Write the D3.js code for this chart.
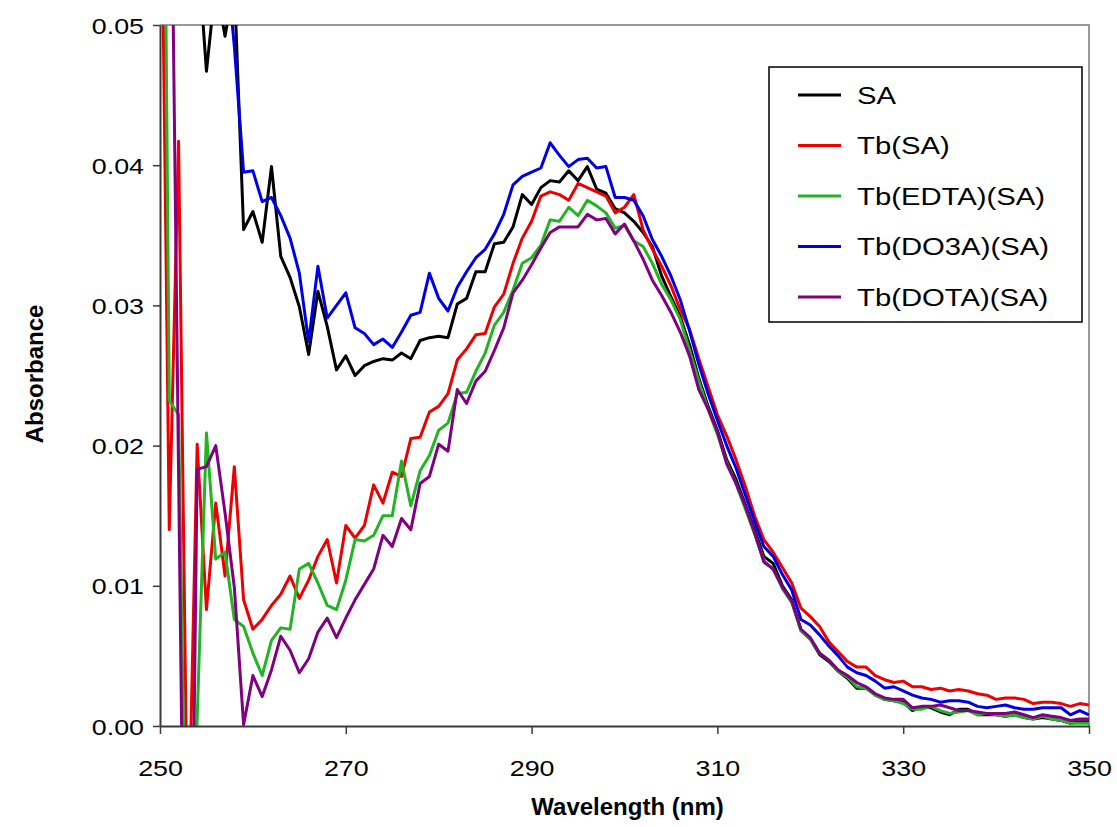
<!DOCTYPE html>
<html>
<head>
<meta charset="utf-8">
<script src="https://cdn.jsdelivr.net/npm/d3@7"></script>
<style>
  html, body { margin: 0; padding: 0; background: #ffffff; }
  svg { display: block; }
  text { font-family: "Liberation Sans", Arial, Helvetica, sans-serif; fill: #000; }
</style>
</head>
<body>
<svg id="chart" width="1117" height="827"></svg>
<script>
// ---------------- DATA ----------------
const wavelengths = d3.range(250, 351, 1);

const seriesNames = ["SA", "Tb(SA)", "Tb(EDTA)(SA)", "Tb(DO3A)(SA)", "Tb(DOTA)(SA)"];
const seriesColors = ["#000000", "#ee0000", "#22b422", "#0000e6", "#800080"];

const SA = [
  0.075, 0.072, 0.068, 0.063, 0.056, 0.0467, 0.053, 0.0492, 0.053, 0.0354,
  0.0367, 0.0345, 0.0399, 0.0335, 0.0320, 0.0299, 0.0265, 0.0310, 0.0285, 0.0254,
  0.0264, 0.0250, 0.0257, 0.0260, 0.0262, 0.0261, 0.0266, 0.0262, 0.0275, 0.0277,
  0.0278, 0.0277, 0.0301, 0.0305, 0.0324, 0.0324, 0.0344, 0.0345, 0.0356, 0.0379,
  0.0372, 0.0384, 0.0389, 0.0388, 0.0396, 0.0389, 0.0399, 0.0383, 0.0380, 0.0369,
  0.0366, 0.0360, 0.0352, 0.0342, 0.0321, 0.0306, 0.0292, 0.0272, 0.0248, 0.0228,
  0.0211, 0.0190, 0.0176, 0.0158, 0.0140, 0.0121, 0.0116, 0.0100, 0.0090, 0.0068,
  0.0062, 0.0051, 0.0046, 0.0039, 0.0034, 0.0027, 0.0027, 0.0022, 0.0019, 0.0018,
  0.0017, 0.0011, 0.0014, 0.0013, 0.0010, 0.0008, 0.0012, 0.0012, 0.0008, 0.0008,
  0.0008, 0.0007, 0.0008, 0.0006, 0.0005, 0.0006, 0.0005, 0.0004, 0.0002, 0.0003,
  0.0003
];

const TbSA = [
  0.070, 0.0140, 0.0417, -0.0104, 0.0201, 0.0083, 0.0159, 0.0107, 0.0185, 0.0090,
  0.0069, 0.0076, 0.0086, 0.0094, 0.0107, 0.0091, 0.0104, 0.0121, 0.0133, 0.0102,
  0.0143, 0.0134, 0.0143, 0.0172, 0.0159, 0.0181, 0.0178, 0.0205, 0.0206, 0.0224,
  0.0228, 0.0237, 0.0261, 0.0269, 0.0279, 0.0280, 0.0299, 0.0308, 0.0330, 0.0348,
  0.0360, 0.0378, 0.0381, 0.0379, 0.0375, 0.0387, 0.0384, 0.0381, 0.0378, 0.0366,
  0.0370, 0.0379, 0.0354, 0.0340, 0.0328, 0.0314, 0.0297, 0.0283, 0.0262, 0.0242,
  0.0222, 0.0207, 0.0190, 0.0171, 0.0150, 0.0133, 0.0124, 0.0113, 0.0102, 0.0084,
  0.0078, 0.0071, 0.0060, 0.0053, 0.0046, 0.0042, 0.0042, 0.0036, 0.0033, 0.0031,
  0.0032, 0.0028, 0.0028, 0.0026, 0.0027, 0.0025, 0.0026, 0.0025, 0.0023, 0.0022,
  0.0019, 0.0020, 0.0020, 0.0019, 0.0016, 0.0017, 0.0017, 0.0016, 0.0014, 0.0016,
  0.0015
];

const TbEDTA = [
  0.099, 0.0232, 0.0222, -0.020, 0.0005, 0.0209, 0.0119, 0.0124, 0.0076, 0.0071,
  0.0052, 0.0036, 0.0061, 0.0070, 0.0069, 0.0112, 0.0116, 0.0102, 0.0086, 0.0083,
  0.0104, 0.0133, 0.0132, 0.0136, 0.0150, 0.0150, 0.0189, 0.0157, 0.0182, 0.0193,
  0.0211, 0.0216, 0.0237, 0.0238, 0.0253, 0.0266, 0.0286, 0.0295, 0.0311, 0.0330,
  0.0334, 0.0343, 0.0361, 0.0360, 0.0370, 0.0364, 0.0375, 0.0371, 0.0366, 0.0355,
  0.0357, 0.0346, 0.0342, 0.0330, 0.0315, 0.0304, 0.0290, 0.0268, 0.0246, 0.0226,
  0.0208, 0.0188, 0.0173, 0.0155, 0.0137, 0.0118, 0.0112, 0.0098, 0.0088, 0.0068,
  0.0062, 0.0052, 0.0047, 0.0039, 0.0035, 0.0028, 0.0027, 0.0022, 0.0019, 0.0018,
  0.0016, 0.0012, 0.0012, 0.0014, 0.0011, 0.0009, 0.0010, 0.0011, 0.0008, 0.0009,
  0.0008, 0.0007, 0.0008, 0.0006, 0.0005, 0.0007, 0.0005, 0.0004, 0.0002, 0.0002,
  0.0002
];

const TbDO3A = [
  0.090, 0.088, 0.085, 0.080, 0.075, 0.068, 0.062, 0.0555, 0.0485, 0.0395,
  0.0396, 0.0374, 0.0377, 0.0364, 0.0348, 0.0323, 0.0274, 0.0328, 0.0291, 0.0300,
  0.0309, 0.0284, 0.0280, 0.0272, 0.0276, 0.0270, 0.0281, 0.0293, 0.0295, 0.0323,
  0.0305, 0.0296, 0.0313, 0.0324, 0.0334, 0.0340, 0.0351, 0.0365, 0.0386, 0.0392,
  0.0395, 0.0398, 0.0416, 0.0407, 0.0399, 0.0404, 0.0405, 0.0398, 0.0399, 0.0377,
  0.0377, 0.0375, 0.0364, 0.0347, 0.0335, 0.0321, 0.0304, 0.0282, 0.0258, 0.0237,
  0.0218, 0.0200, 0.0184, 0.0165, 0.0146, 0.0128, 0.0121, 0.0108, 0.0097, 0.0076,
  0.0072, 0.0065, 0.0057, 0.0050, 0.0042, 0.0038, 0.0036, 0.0032, 0.0027, 0.0028,
  0.0025, 0.0022, 0.0020, 0.0019, 0.0017, 0.0018, 0.0018, 0.0017, 0.0014, 0.0013,
  0.0014, 0.0015, 0.0013, 0.0012, 0.0012, 0.0013, 0.0013, 0.0013, 0.0008, 0.0011,
  0.0008
];

const TbDOTA = [
  0.090, 0.074, 0.018, -0.037, 0.0183, 0.0185, 0.0200, 0.0152, 0.0099, 0.0001,
  0.0036, 0.0021, 0.0040, 0.0064, 0.0054, 0.0038, 0.0048, 0.0067, 0.0077, 0.0063,
  0.0077, 0.0090, 0.0101, 0.0112, 0.0136, 0.0128, 0.0148, 0.0140, 0.0173, 0.0178,
  0.0201, 0.0196, 0.0240, 0.0230, 0.0246, 0.0253, 0.0268, 0.0284, 0.0309, 0.0318,
  0.0329, 0.0341, 0.0352, 0.0356, 0.0356, 0.0356, 0.0365, 0.0361, 0.0362, 0.0351,
  0.0358, 0.0346, 0.0333, 0.0318, 0.0307, 0.0295, 0.0281, 0.0264, 0.0240, 0.0226,
  0.0210, 0.0187, 0.0173, 0.0157, 0.0138, 0.0117, 0.0112, 0.0099, 0.0089, 0.0069,
  0.0063, 0.0052, 0.0047, 0.0040, 0.0036, 0.0031, 0.0028, 0.0023, 0.0020, 0.0019,
  0.0019, 0.0013, 0.0014, 0.0014, 0.0015, 0.0013, 0.0011, 0.0011, 0.0010, 0.0009,
  0.0009, 0.0009, 0.0010, 0.0008, 0.0006, 0.0008, 0.0007, 0.0006, 0.0004, 0.0005,
  0.0005
];

const xTicks = [250, 270, 290, 310, 330, 350];
const yTicks = [0.00, 0.01, 0.02, 0.03, 0.04, 0.05];
const xTitle = "Wavelength (nm)";
const yTitle = "Absorbance";

// ---------------- CHART ----------------
const seriesValues = [SA, TbSA, TbEDTA, TbDO3A, TbDOTA];
const series = seriesNames.map((name, i) => ({
  name, color: seriesColors[i],
  points: wavelengths.map((w, j) => ({ x: w, y: seriesValues[i][j] }))
}));

const plot = { left: 160, right: 1089, top: 25, bottom: 726 };
const svg = d3.select("#chart");

const x = d3.scaleLinear().domain([250, 350]).range([plot.left, plot.right]);
const y = d3.scaleLinear().domain([0, 0.05]).range([plot.bottom, plot.top]);

svg.append("rect").attr("width", 1117).attr("height", 827).attr("fill", "#fff");

// plot area border (top and right in gray)
svg.append("path")
  .attr("d", `M${plot.left},${plot.top}H${plot.right}V${plot.bottom}`)
  .attr("fill", "none").attr("stroke", "#999999").attr("stroke-width", 2);

svg.append("clipPath").attr("id", "clip")
  .append("rect")
  .attr("x", plot.left).attr("y", plot.top)
  .attr("width", plot.right - plot.left).attr("height", plot.bottom - plot.top);

const line = d3.line().x(d => x(d.x)).y(d => y(d.y));

svg.append("g").attr("clip-path", "url(#clip)")
  .selectAll("path").data(series).join("path")
  .attr("d", d => line(d.points))
  .attr("fill", "none")
  .attr("stroke", d => d.color)
  .attr("stroke-width", 3)
  .attr("stroke-linejoin", "round");

// axes
const sx = 1.22;
const yAxis = svg.append("g").attr("transform", `translate(${plot.left},0)`)
  .call(d3.axisLeft(y).tickValues(yTicks).tickFormat(d3.format(".2f")).tickSize(7).tickSizeOuter(0));
yAxis.select(".domain").attr("stroke", "#3a3a3a").attr("stroke-width", 2);
yAxis.selectAll(".tick line").attr("stroke", "#3a3a3a").attr("stroke-width", 1.5);
yAxis.selectAll(".tick text")
  .attr("x", null).attr("dy", null)
  .attr("text-anchor", "end")
  .attr("font-size", 22)
  .attr("font-family", "'Liberation Sans', Arial, sans-serif")
  .attr("fill", "#000")
  .attr("transform", `translate(-16,8) scale(${sx},1)`);

const xAxis = svg.append("g").attr("transform", `translate(0,${plot.bottom})`)
  .call(d3.axisBottom(x).tickValues(xTicks).tickFormat(d3.format("d")).tickSize(8).tickSizeOuter(0));
xAxis.select(".domain").attr("stroke", "#3a3a3a").attr("stroke-width", 2);
xAxis.selectAll(".tick line").attr("stroke", "#3a3a3a").attr("stroke-width", 1.5);
xAxis.selectAll(".tick text")
  .attr("y", null).attr("dy", null)
  .attr("text-anchor", "middle")
  .attr("font-size", 22)
  .attr("font-family", "'Liberation Sans', Arial, sans-serif")
  .attr("fill", "#000")
  .attr("transform", `translate(0,50) scale(${sx},1)`);

// axis titles
svg.append("text")
  .attr("transform", `translate(${(plot.left + plot.right) / 2 + 3},815)`)
  .attr("text-anchor", "middle")
  .attr("font-size", 24).attr("font-weight", "bold")
  .text(xTitle);

svg.append("text")
  .attr("transform", `translate(43,374) rotate(-90)`)
  .attr("text-anchor", "middle")
  .attr("font-size", 24).attr("font-weight", "bold")
  .text(yTitle);

// legend
const legend = svg.append("g");
legend.append("rect")
  .attr("x", 769).attr("y", 67).attr("width", 313).attr("height", 255)
  .attr("fill", "#fff").attr("stroke", "#000").attr("stroke-width", 1.5);

const rows = legend.selectAll("g.item").data(series).join("g")
  .attr("class", "item")
  .attr("transform", (d, i) => `translate(0,${95 + i * 50.5})`);
rows.append("line")
  .attr("x1", 798).attr("x2", 841).attr("y1", 0).attr("y2", 0)
  .attr("stroke", d => d.color).attr("stroke-width", 3);
rows.append("text")
  .attr("transform", `translate(857,8.5) scale(1.22,1)`)
  .attr("font-size", 24)
  .text(d => d.name);
</script>
</body>
</html>
